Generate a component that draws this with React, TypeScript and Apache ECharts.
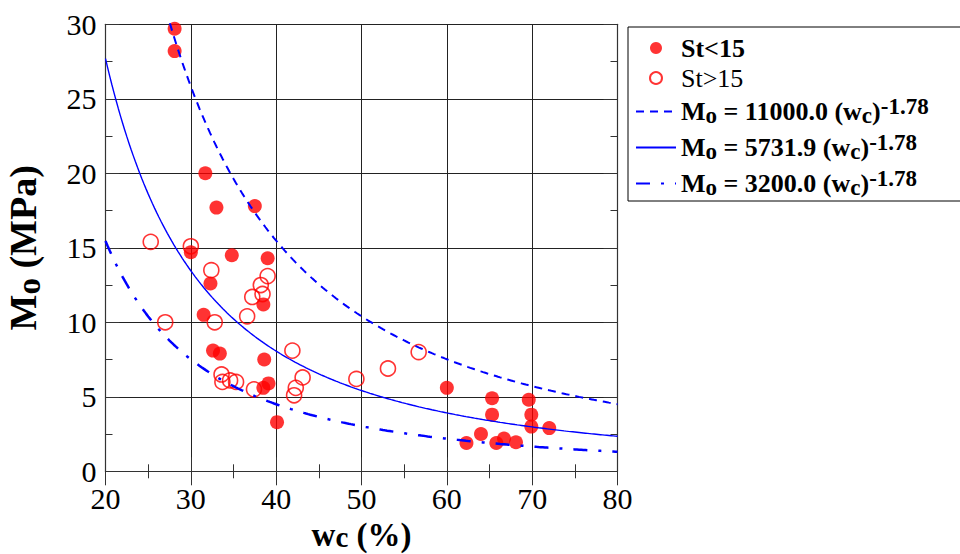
import React, { useEffect, useRef } from "react";
import * as echarts from "echarts";

// St<15 (filled)
const wcFilled = [28.1, 28.1, 31.7, 33.0, 37.5, 30.0, 34.8, 39.0, 32.3, 38.5, 31.5, 32.6, 33.4, 38.6, 39.1, 38.5, 40.1, 60.0, 65.3, 69.6, 65.3, 69.9, 69.9, 72.0, 64.0, 62.3, 65.8, 66.7, 68.1];
const moFilled = [29.7, 28.2, 20.0, 17.7, 17.8, 14.7, 14.5, 14.3, 12.6, 11.2, 10.5, 8.1, 7.9, 7.5, 5.9, 5.6, 3.3, 5.6, 4.9, 4.8, 3.8, 3.8, 3.0, 2.9, 2.5, 1.9, 1.9, 2.2, 1.95];
// St>15 (open)
const wcOpen = [25.3, 30.0, 32.4, 39.0, 38.2, 38.4, 37.2, 36.6, 32.8, 27.0, 33.6, 33.7, 34.6, 35.3, 37.4, 41.9, 43.1, 42.3, 42.1, 49.4, 53.1, 56.7];
const moOpen = [15.4, 15.1, 13.5, 13.1, 12.5, 11.9, 11.7, 10.4, 10.0, 10.0, 6.5, 6.0, 6.1, 6.0, 5.5, 8.1, 6.3, 5.6, 5.1, 6.2, 6.9, 8.0];
// Model curves: Mo = A * wc^b (coefficients from legend)
const curveCoefs = [11000.0, 5731.9, 3200.0];
const curveExp = -1.78;
const curveNames = ["c1", "c2", "c3"];
const curveLabels = ["11000.0", "5731.9", "3200.0"];
const xTicks = [20, 30, 40, 50, 60, 70, 80];

const FONT = "'Liberation Serif', 'Times New Roman', serif";

function curveData(a: number) {
  const pts: number[][] = [];
  for (let x = 20; x <= 80.0001; x += 0.25) pts.push([x, a * Math.pow(x, curveExp)]);
  return pts;
}

export default function App() {
  const ref = useRef<HTMLDivElement>(null);
  useEffect(() => {
    document.body.style.margin = "0";
    const chart = echarts.init(ref.current!, undefined, { renderer: "svg" });
    const labelStyle = { fontFamily: FONT, fontSize: 30, color: "#000" };
    const common = {
      axisLine: { show: true, lineStyle: { color: "#333", width: 1.2 } },
      axisTick: { show: true, inside: true, length: 14, lineStyle: { color: "#333" } },
      minorTick: { show: true, splitNumber: 2, length: 7, lineStyle: { color: "#333" } },
      splitLine: { show: true, lineStyle: { color: "#222", width: 1 } },
    };
    const lineStyles: any[] = [
      { color: "#0000ff", width: 2, type: [8, 6] },
      { color: "#0000ff", width: 1.4, type: "solid" },
      { color: "#0000ff", width: 2.5, type: [14, 11, 3, 11] },
    ];
    const rich = {
      b: { fontFamily: FONT, fontSize: 26, fontWeight: "bold", color: "#000" },
      n: { fontFamily: FONT, fontSize: 26, color: "#000" },
      sub: { fontFamily: FONT, fontSize: 23, fontWeight: "bold", color: "#000", padding: [8, 0, 0, 0] },
      sup: { fontFamily: FONT, fontSize: 23, fontWeight: "bold", color: "#000", padding: [0, 0, 10, 0] },
    };
    chart.setOption({
      animation: false,
      textStyle: { fontFamily: FONT },
      grid: { left: 105.5, top: 24.3, width: 512, height: 447, outerBoundsMode: "none" } as any,
      xAxis: [
        {
          type: "value", min: 20, max: 80, interval: 10, position: "bottom",
          ...common,
          axisLabel: { ...labelStyle, margin: 12, customValues: xTicks } as any,
          name: "{b|w}{sub|c}{b| (%)}",
          nameLocation: "middle",
          nameGap: 46,
          nameTextStyle: {
            fontFamily: FONT,
            rich: {
              b: { fontFamily: FONT, fontSize: 33, fontWeight: "bold", color: "#000" },
              sub: { fontFamily: FONT, fontSize: 29, fontWeight: "bold", color: "#000", padding: [4, 0, 0, 0] },
            },
          },
        },
        {
          type: "value", min: 20, max: 80, interval: 10, position: "top",
          ...common, splitLine: { show: false },
          axisLabel: { show: false },
        },
      ],
      yAxis: [
        {
          type: "value", min: 0, max: 30, interval: 5, position: "left",
          ...common,
          axisLabel: { ...labelStyle, margin: 9 },
          name: "{b|M}{sub|o}{b| (MPa)}",
          nameLocation: "middle",
          nameGap: 60,
          nameTextStyle: {
            fontFamily: FONT,
            rich: {
              b: { fontFamily: FONT, fontSize: 38, fontWeight: "bold", color: "#000" },
              sub: { fontFamily: FONT, fontSize: 33, fontWeight: "bold", color: "#000", padding: [12, 0, 0, 0] },
            },
          },
        },
        {
          type: "value", min: 0, max: 30, interval: 5, position: "right",
          ...common, splitLine: { show: false },
          axisLabel: { show: false },
        },
      ],
      legend: {
        orient: "vertical",
        left: 628,
        top: 27,
        padding: [8, 40, 2, 7],
        itemGap: 4,
        itemWidth: 40,
        itemHeight: 12,
        borderColor: "#000",
        borderWidth: 1,
        data: ["St<15", "St>15", ...curveNames],
        formatter: (name: string) => {
          if (name === "St<15") return "{b|St<15}";
          if (name === "St>15") return "{n|St>15}";
          const i = curveNames.indexOf(name);
          return `{b|M}{sub|o}{b| = ${curveLabels[i]} (w}{sub|c}{b|)}{sup|-1.78}`;
        },
        textStyle: { fontFamily: FONT, rich },
      },
      series: [
        {
          name: "St>15", type: "scatter", symbol: "circle", symbolSize: 15,
          itemStyle: { color: "rgba(0,0,0,0)", borderColor: "#ff0000", borderWidth: 1.6 },
          data: wcOpen.map((x, i) => [x, moOpen[i]]),
          z: 2,
        },
        {
          name: "St<15", type: "scatter", symbol: "circle", symbolSize: 14,
          itemStyle: { color: "#ff0000" },
          data: wcFilled.map((x, i) => [x, moFilled[i]]),
          z: 3,
        },
        ...curveCoefs.map((a, i) => ({
          name: curveNames[i], type: "line", showSymbol: false, symbol: "none",
          clip: true, lineStyle: lineStyles[i],
          itemStyle: { color: "rgba(0,0,0,0)", borderWidth: 0, borderColor: "rgba(0,0,0,0)" },
          data: curveData(a), z: 4,
        })),
      ],
    });
    return () => chart.dispose();
  }, []);
  return <div ref={ref} style={{ width: 960, height: 554 }} />;
}
